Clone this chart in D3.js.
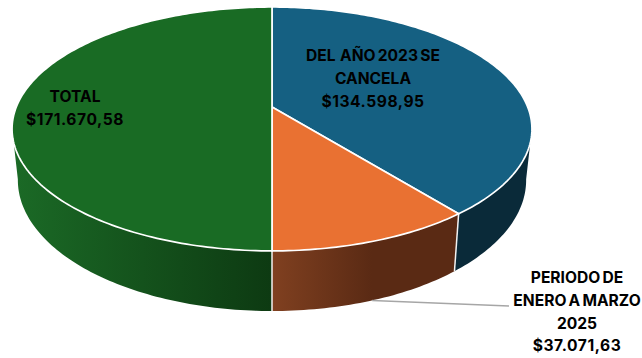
<!DOCTYPE html>
<html>
<head>
<meta charset="utf-8">
<script src="https://cdn.jsdelivr.net/npm/d3@7/dist/d3.min.js"></script>
<style>
  html, body { margin: 0; padding: 0; background: #fff; }
  svg { display: block; }
  text { font-family: Inter, "Open Sans", sans-serif; font-weight: 700; font-size: 15.6px; fill: #000; text-anchor: middle; word-spacing: -1.5px; }
  text.amount { letter-spacing: 0.55px; }
</style>
</head>
<body>
<svg id="chart" width="642" height="358"></svg>
<script>
// Payment breakdown, drawn as a tilted 3D pie
const categories = ["DEL AÑO 2023 SE CANCELA", "PERIODO DE ENERO A MARZO 2025", "TOTAL"];
const values = [134598.95, 37071.63, 171670.58];
const topColors = ["#156082", "#E97132", "#196B24"];
const sideStart = ["#0A2A39", "#5A2A14", "#0D3A12"];
const sideEnd = ["#0A2A39", "#804020", "#1B6A26"];
const labelLines = [["DEL  AÑO 2023 SE", "CANCELA"], ["PERIODO DE", "ENERO A MARZO", "2025"], ["TOTAL"]];
const labelAnchors = [[373, 61], [577, 283], [75, 102]];
const lineStep = 22.8;

const money = d3.formatLocale({ decimal: ",", thousands: ".", grouping: [3], currency: ["$", ""] }).format("$,.2f");

// Perspective projection of the unit disc; each plane has its own scale and foreshortening
const centerX = 272;
const topPlane = { a: 255.7, b: 118, y0: 107, k: -0.18 };
const bottomPlane = { a: 250, b: 126.7, y0: 156.5, k: -0.18 };

// Walls are only drawn between the two silhouette angles, facing the viewer
const wallFrom = Math.PI * 100 / 180;
const wallTo = Math.PI * 260 / 180;

function project(plane, angle) {
  const x = Math.sin(angle), y = -Math.cos(angle);
  const w = 1 + plane.k * y;
  return [centerX + plane.a * x / w, plane.y0 + plane.b * y / w];
}
const hub = [centerX, topPlane.y0];

const slices = d3.pie().value(d => d).sort(null)(values);
const svg = d3.select("#chart");
const defs = svg.append("defs");
const line = d3.line();

function arcPoints(plane, a0, a1) {
  const n = Math.max(2, Math.ceil((a1 - a0) / (Math.PI / 180)));
  return d3.range(n + 1).map(i => project(plane, a0 + (a1 - a0) * i / n));
}

// Side wall of each slice, shaded across its width
const sideX = [[272, 532], [272, 372], [13, 272]];
slices.forEach((s, i) => {
  const g = defs.append("linearGradient")
    .attr("id", "side" + i).attr("gradientUnits", "userSpaceOnUse")
    .attr("x1", i === 2 ? sideX[i][0] : sideX[i][1]).attr("x2", i === 2 ? sideX[i][1] : sideX[i][0])
    .attr("y1", 0).attr("y2", 0);
  g.append("stop").attr("offset", 0).attr("stop-color", i === 2 ? sideEnd[i] : sideStart[i]);
  g.append("stop").attr("offset", 1).attr("stop-color", i === 2 ? sideStart[i] : sideEnd[i]);
});

svg.append("g").selectAll("path").data(slices).join("path")
  .attr("d", s => {
    const a0 = Math.max(s.startAngle, wallFrom), a1 = Math.min(s.endAngle, wallTo);
    return line([...arcPoints(topPlane, a0, a1), ...arcPoints(bottomPlane, a0, a1).reverse()]) + "Z";
  })
  .attr("fill", (s, i) => `url(#side${i})`);

// White seams where the walls meet, on the front half only
svg.append("g").selectAll("line").data(slices.filter(s => Math.cos(s.endAngle) < 0 && s.index < 2)).join("line")
  .attr("x1", s => project(topPlane, s.endAngle)[0])
  .attr("y1", s => project(topPlane, s.endAngle)[1])
  .attr("x2", s => project(bottomPlane, s.endAngle)[0])
  .attr("y2", s => project(bottomPlane, s.endAngle)[1])
  .attr("stroke", "#f2f2f2").attr("stroke-width", 1.5);

// Top face
svg.append("g").selectAll("path").data(slices).join("path")
  .attr("d", s => line([hub, ...arcPoints(topPlane, s.startAngle, s.endAngle)]) + "Z")
  .attr("fill", (s, i) => topColors[i])
  .attr("stroke", "#ffffff").attr("stroke-width", 1.7).attr("stroke-linejoin", "round");

// Leader from the small slice's wall to its label
const leaderIndex = 1;
const leaderMid = (slices[leaderIndex].startAngle + slices[leaderIndex].endAngle) / 2;
const leaderStart = project(bottomPlane, leaderMid);
svg.append("path")
  .attr("d", line([leaderStart, [509, 306]]))
  .attr("fill", "none").attr("stroke", "#a6a6a6").attr("stroke-width", 1.5);

// Labels: category lines followed by the amount
const labels = svg.append("g").selectAll("text")
  .data(categories.flatMap((c, i) => [
    ...labelLines[i].map((t, j) => ({ t, amount: false, x: labelAnchors[i][0], y: labelAnchors[i][1] + j * lineStep })),
    { t: money(values[i]), amount: true, x: labelAnchors[i][0], y: labelAnchors[i][1] + labelLines[i].length * lineStep }
  ]))
  .join("text")
  .classed("amount", d => d.amount)
  .attr("x", d => d.x).attr("y", d => d.y)
  .attr("xml:space", "preserve")
  .text(d => d.t);
</script>
</body>
</html>
